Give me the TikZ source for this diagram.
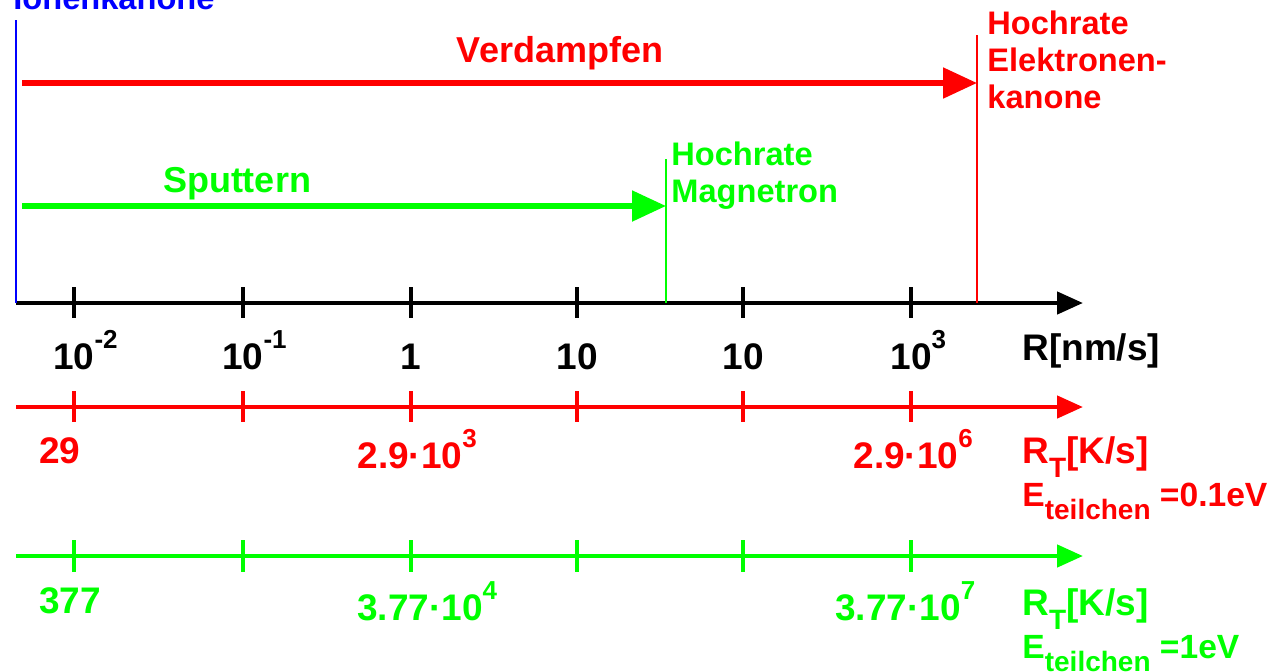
\documentclass[tikz,border=0pt]{standalone}
\usepackage{fontspec}
\setmainfont{Liberation Sans}
\usetikzlibrary{arrows.meta,positioning}

\definecolor{rot}{RGB}{255,0,0}
\definecolor{gruen}{RGB}{0,255,0}
\definecolor{blau}{RGB}{0,0,255}
\newcommand{\hoch}[1]{\raisebox{0.55em}{\fontsize{13}{13}\selectfont #1}}
\newcommand{\tief}[1]{\raisebox{-0.4em}{\fontsize{14}{14}\selectfont #1}}

\begin{document}
\begin{tikzpicture}[x=0.5pt, y=-0.5pt,
        gross/.style={font=\fontsize{18}{18}\selectfont\bfseries, inner sep=0pt},
        zahl/.style={font=\fontsize{18.5}{18.5}\selectfont\bfseries, inner sep=0pt},
        klein/.style={font=\fontsize{16.3}{18.5}\selectfont\bfseries, inner sep=0pt, align=left},
        energie/.style={font=\fontsize{16.8}{18.5}\selectfont\bfseries, inner sep=0pt},
        achse/.style={line width=2.3pt, -{Triangle[length=13pt,width=11pt]}},
        strich/.style={line width=1.8pt},
        pfeil/.style={line width=2.6pt, -{Triangle[length=17pt,width=15pt]}},
        grenze/.style={line width=1.1pt}]

    \useasboundingbox (0,0) rectangle (1274,671);

    % Achsen
    \coordinate (r0) at (16,303);  \coordinate (r1) at (1083,303);
    \coordinate (k0) at (16,407);  \coordinate (k1) at (1083,407);
    \coordinate (g0) at (16,556);  \coordinate (g1) at (1083,556);

    \draw[achse] (r0) -- (r1);
    \draw[achse, rot] (k0) -- (k1);
    \draw[achse, gruen] (g0) -- (g1);

    \foreach \x in {74,243,411,577,743,911} {
        \draw[strich] (\x,287) -- (\x,318);
        \draw[strich, rot] (\x,391) -- (\x,422);
        \draw[strich, gruen] (\x,540) -- (\x,572);
    }

    % Beschriftung R
    \node[zahl, anchor=base] (n1) at (74,369) {10\rlap{\hoch{-2}}};
    \node[zahl, anchor=base] (n2) at (243,369) {10\rlap{\hoch{-1}}};
    \node[zahl, anchor=base] (n3) at (411,369) {1};
    \node[zahl, anchor=base] (n4) at (577,369) {10};
    \node[zahl, anchor=base] (n5) at (743,369) {10};
    \node[zahl, anchor=base] (n6) at (911,369) {10\rlap{\hoch{3}}};
    \node[zahl, anchor=base west] (einheit) at (1022,360) {R[nm/s]};

    % Beschriftung R_T, 0.1eV
    \node[zahl, rot, anchor=base] (kr1) at (60,463) {29};
    \node[zahl, rot, anchor=base] (kr2) at (410,468) {2.9·10\rlap{\hoch{3}}};
    \node[zahl, rot, anchor=base] (kr3) at (906,468) {2.9·10\rlap{\hoch{6}}};
    \node[zahl, rot, anchor=base west] (krt) at (1022,463) {R\tief{T}[K/s]};
    \node[energie, rot, anchor=base west] (kre) at (1022,506) {E\tief{teilchen} =0.1eV};

    % Beschriftung R_T, 1eV
    \node[zahl, gruen, anchor=base] (gr1) at (70,613) {377};
    \node[zahl, gruen, anchor=base] (gr2) at (420,620) {3.77·10\rlap{\hoch{4}}};
    \node[zahl, gruen, anchor=base] (gr3) at (898,620) {3.77·10\rlap{\hoch{7}}};
    \node[zahl, gruen, anchor=base west] (grt) at (1022,615) {R\tief{T}[K/s]};
    \node[energie, gruen, anchor=base west] (gre) at (1022,658) {E\tief{teilchen} =1eV};

    % Ionenkanone
    \coordinate (ik) at (16,20);
    \draw[grenze, blau] (ik) -- (r0);
    \node[klein, blau, anchor=base west] (ionen) at (13,9) {Ionenkanone};

    % Verdampfen
    \coordinate (ek0) at (977,35);  \coordinate (ek1) at (977,303);
    \coordinate (v0) at (22,83);    \coordinate (v1) at (977,83);
    \draw[grenze, rot] (ek0) -- (ek1);
    \draw[pfeil, rot] (v0) -- (v1);
    \node[gross, rot, anchor=base] (verd) at (560,62) {Verdampfen};
    \node[klein, rot, anchor=base west] (elek) at (987,108) {Hochrate\\Elektronen-\\kanone};

    % Sputtern
    \coordinate (mg0) at (666,159); \coordinate (mg1) at (666,303);
    \coordinate (s0) at (22,206);   \coordinate (s1) at (666,206);
    \draw[grenze, gruen] (mg0) -- (mg1);
    \draw[pfeil, gruen] (s0) -- (s1);
    \node[gross, gruen, anchor=base] (sput) at (237,192) {Sputtern};
    \node[klein, gruen, anchor=base west] (magn) at (671,202) {Hochrate\\Magnetron};
\end{tikzpicture}
\end{document}
